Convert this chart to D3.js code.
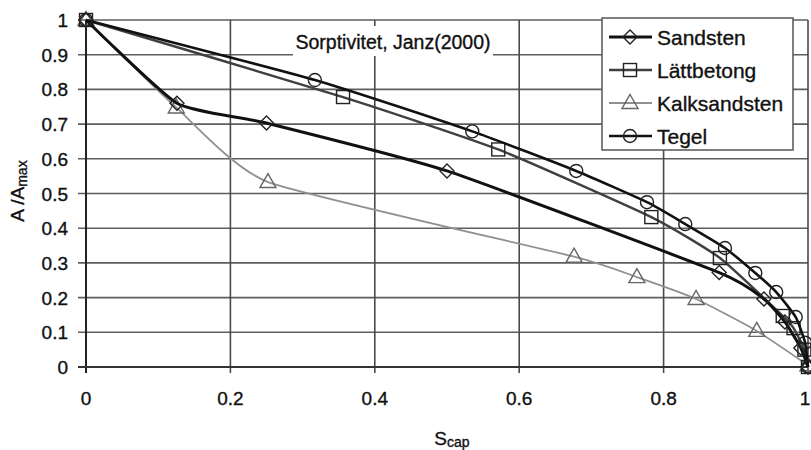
<!DOCTYPE html>
<html><head><meta charset="utf-8">
<script src="https://cdn.jsdelivr.net/npm/d3@7"></script>
<style>body{margin:0;background:#fff}svg{display:block;font-family:"Liberation Sans",Arial,sans-serif}svg text{stroke:#111;stroke-width:0.35px}</style>
</head><body><svg id="c" width="811" height="450"></svg>
<script>
const seriesNames = ["Sandsten","Lättbetong","Kalksandsten","Tegel"];
const sandstenX = [0, 0.126, 0.25, 0.50, 0.877, 0.939, 0.968, 0.99, 1];
const sandstenY = [1, 0.76, 0.703, 0.565, 0.272, 0.196, 0.13, 0.055, 0];
const lattX = [0, 0.356, 0.571, 0.783, 0.878, 0.965, 0.98, 0.995, 1];
const lattY = [1, 0.778, 0.627, 0.432, 0.314, 0.147, 0.112, 0.05, 0];
const kalkX = [0, 0.125, 0.252, 0.676, 0.763, 0.845, 0.929, 1];
const kalkY = [1, 0.748, 0.533, 0.318, 0.259, 0.196, 0.104, 0.005];
const tegelX = [0, 0.317, 0.535, 0.679, 0.777, 0.830, 0.885, 0.927, 0.956, 0.983, 0.996, 1];
const tegelY = [1, 0.827, 0.679, 0.565, 0.475, 0.412, 0.343, 0.271, 0.216, 0.144, 0.07, 0];
const xTicks = [0, 0.2, 0.4, 0.6, 0.8, 1];
const yTicks = [0, 0.1, 0.2, 0.3, 0.4, 0.5, 0.6, 0.7, 0.8, 0.9, 1];
const annotation = "Sorptivitet, Janz(2000)";

const svg = d3.select("#c");
const x = d3.scaleLinear().domain([0,1]).range([86,808]);
const y = d3.scaleLinear().domain([0,1]).range([367,20]);

// grid
svg.append("g").selectAll("line").data(yTicks).join("line")
  .attr("x1", x(0)-8).attr("x2", x(1)).attr("y1", d=>y(d)).attr("y2", d=>y(d))
  .attr("stroke", "#5e5e5e").attr("stroke-width", 1.6);
svg.append("g").selectAll("line").data(xTicks).join("line")
  .attr("x1", d=>x(d)).attr("x2", d=>x(d)).attr("y1", y(1)).attr("y2", y(0)+6)
  .attr("stroke", "#4a4a4a").attr("stroke-width", 1.6);
svg.append("line").attr("x1",x(0)).attr("x2",x(0)).attr("y1",y(1)).attr("y2",y(0)+6).attr("stroke","#222").attr("stroke-width",2);
svg.append("line").attr("x1",x(0)-8).attr("x2",x(1)).attr("y1",y(0)).attr("y2",y(0)).attr("stroke","#333").attr("stroke-width",1.8);

// tick labels
svg.append("g").selectAll("text").data(yTicks).join("text")
  .attr("x", 68).attr("y", d=>y(d)+7).attr("text-anchor","end")
  .attr("font-size", 19).attr("fill","#111").text(d=>String(d));
svg.append("g").selectAll("text").data(xTicks).join("text")
  .attr("x", d=>Math.min(x(d), 805)).attr("y", 405).attr("text-anchor","middle")
  .attr("font-size", 19).attr("fill","#111").text(d=>String(d));

// axis titles
const yt = svg.append("text").attr("transform","translate(24,191) rotate(-90)")
  .attr("text-anchor","middle").attr("font-size",19).attr("fill","#111");
yt.append("tspan").text("A /A");
yt.append("tspan").attr("font-size",14).attr("dy",3).text("max");
const xt = svg.append("text").attr("x",452).attr("y",445)
  .attr("text-anchor","middle").attr("font-size",19).attr("fill","#111");
xt.append("tspan").text("S");
xt.append("tspan").attr("font-size",14).attr("dy",2).text("cap");

// annotation box
svg.append("rect").attr("x",293).attr("y",26).attr("width",200).attr("height",30).attr("fill","#fff");
svg.append("text").attr("x",393).attr("y",49).attr("text-anchor","middle")
  .attr("font-size",19.5).attr("fill","#111").text(annotation);

const series = [
  {name: seriesNames[0], xs: sandstenX, ys: sandstenY, color:"#111", w:3, sym:"diamond"},
  {name: seriesNames[1], xs: lattX, ys: lattY, color:"#404040", w:2.4, sym:"square"},
  {name: seriesNames[2], xs: kalkX, ys: kalkY, color:"#909090", w:1.8, sym:"triangle"},
  {name: seriesNames[3], xs: tegelX, ys: tegelY, color:"#111", w:2.6, sym:"circle"}
];

function marker(g, sym, cx, cy, color) {
  if (sym==="diamond") g.append("path").attr("d",`M${cx},${cy-7}L${cx+7},${cy}L${cx},${cy+7}L${cx-7},${cy}Z`);
  else if (sym==="square") g.append("rect").attr("x",cx-6.5).attr("y",cy-6.5).attr("width",13).attr("height",13);
  else if (sym==="triangle") g.append("path").attr("d",`M${cx},${cy-8.5}L${cx+8},${cy+5.5}L${cx-8},${cy+5.5}Z`);
  else g.append("circle").attr("cx",cx).attr("cy",cy).attr("r",6.5);
  g.selectAll("*").attr("fill","none").attr("stroke", color).attr("stroke-width",1.4);
}

const line = d3.line().curve(d3.curveCardinal.tension(0.5)).x(d=>x(d[0])).y(d=>y(d[1]));
[2,1,0,3].forEach(i => {
  const s = series[i];
  const pts = s.xs.map((v,k)=>[v, s.ys[k]]);
  svg.append("path").datum(pts).attr("d", line).attr("fill","none")
    .attr("stroke", s.color).attr("stroke-width", s.w);
  const mg = svg.append("g");
  pts.forEach(p => marker(mg.append("g"), s.sym, x(p[0]), y(p[1]), s.color==="#909090" ? "#666" : "#222"));
});

// legend
const lg = svg.append("g");
lg.append("rect").attr("x",602).attr("y",18).attr("width",191).attr("height",132)
  .attr("fill","#fff").attr("stroke","#555").attr("stroke-width",1.5);
series.forEach((s,i) => {
  const cy = 37 + i*33;
  lg.append("line").attr("x1",609).attr("x2",652).attr("y1",cy).attr("y2",cy)
    .attr("stroke", s.color).attr("stroke-width", s.w);
  marker(lg.append("g"), s.sym, 630, cy, s.color==="#909090" ? "#666" : "#222");
  lg.append("text").attr("x",657).attr("y",cy+7.5).attr("font-size",21).attr("fill","#111").text(s.name);
});
</script></body></html>
